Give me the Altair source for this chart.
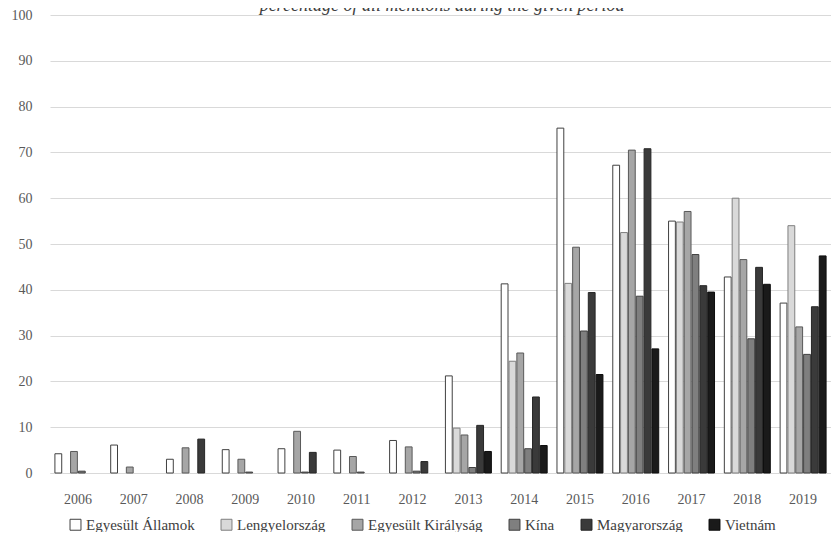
import altair as alt
import pandas as pd

years = [str(y) for y in range(2006, 2020)]
countries = ["Egyesült Államok", "Lengyelország", "Egyesült Királyság", "Kína", "Magyarország", "Vietnám"]
fills = ["#ffffff", "#d9d9d9", "#a6a6a6", "#7f7f7f", "#3a3a3a", "#1a1a1a"]
strokes = ["#404040", "#7f7f7f", "#595959", "#404040", "#262626", "#0d0d0d"]
title_text = ["percentage of all mentions during the given period"]

us = [4.2, 6.1, 3.0, 5.1, 5.3, 5.0, 7.1, 21.2, 41.3, 75.3, 67.2, 55.0, 42.8, 37.1]
poland = [0, 0, 0, 0, 0, 0, 0, 9.8, 24.4, 41.4, 52.5, 54.8, 60.0, 54.0]
uk = [4.7, 1.3, 5.5, 3.0, 9.1, 3.6, 5.7, 8.3, 26.2, 49.3, 70.5, 57.1, 46.6, 31.9]
china = [0.4, 0, 0, 0.2, 0.2, 0.2, 0.4, 1.2, 5.3, 31.0, 38.6, 47.7, 29.3, 25.9]
hungary = [0, 0, 7.4, 0, 4.5, 0, 2.5, 10.4, 16.6, 39.4, 70.8, 40.9, 44.9, 36.3]
vietnam = [0, 0, 0, 0, 0, 0, 0, 4.7, 6.0, 21.5, 27.1, 39.5, 41.2, 47.4]
series = [us, poland, uk, china, hungary, vietnam]

rows = []
for c, vals in zip(countries, series):
    for y, v in zip(years, vals):
        if v > 0:
            rows.append({"year": y, "country": c, "value": v})
df = pd.DataFrame(rows)

FONT = "Liberation Serif"

bars = alt.Chart(df).mark_bar(strokeWidth=1).encode(
    x=alt.X("year:O", sort=years, scale=alt.Scale(domain=years, paddingInner=0.176, paddingOuter=0.088),
            axis=alt.Axis(title=None, labelAngle=0, ticks=False, domainColor="#d9d9d9", domainWidth=1,
                          labelPadding=19, labelFontSize=14, labelColor="#595959", labelFont=FONT)),
    xOffset=alt.XOffset("country:N", scale=alt.Scale(domain=countries, paddingInner=0.13, paddingOuter=0)),
    y=alt.Y("value:Q", scale=alt.Scale(domain=[0, 100], nice=False),
            axis=alt.Axis(title=None, values=list(range(0, 101, 10)), ticks=False, domain=False,
                          gridColor="#d9d9d9", gridWidth=1, labelPadding=18, labelFontSize=14,
                          labelColor="#595959", labelFont=FONT)),
    fill=alt.Fill("country:N", scale=alt.Scale(domain=countries, range=fills),
                  legend=alt.Legend(title=None, orient="none", legendX=18, legendY=502, direction="horizontal",
                                    columns=6, symbolType="square", symbolSize=120, symbolStrokeColor="#404040",
                                    symbolStrokeWidth=1, labelFontSize=15, labelFont=FONT, labelColor="#404040",
                                    columnPadding=24, labelOffset=3)),
    stroke=alt.Stroke("country:N", scale=alt.Scale(domain=countries, range=strokes), legend=None),
)

title = alt.Chart(pd.DataFrame({"t": title_text})).mark_text(
    font=FONT, fontSize=18, fontStyle="italic", color="#404040", align="center", baseline="alphabetic"
).encode(text="t:N", x=alt.value(392), y=alt.value(-4))

chart = alt.layer(bars, title).properties(
    width=781,
    height=458,
    padding={"left": 42, "top": 7, "right": 0, "bottom": 59},
    autosize=alt.AutoSizeParams(type="none"),
).configure_view(stroke=None)

chart.save("out.html", embed_options={"renderer": "svg", "actions": False})
